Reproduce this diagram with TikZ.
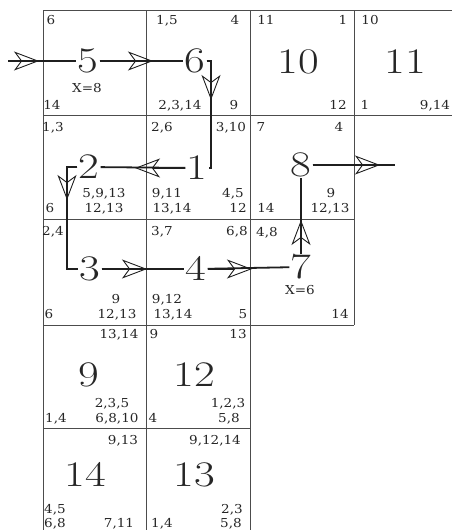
\documentclass[tikz,border=0pt]{standalone}
\usepackage{fontspec}
\newfontfamily\lblfont[FakeStretch=1.1]{DejaVu Serif}
\usetikzlibrary{arrows.meta}
\newcommand\bignum[1]{\scalebox{1.25}[1]{#1}}
\begin{document}
\begin{tikzpicture}[x=1pt,y=-1pt,
  gridline/.style={draw=black!70, line width=0.9pt},
  conn/.style={draw=black!88, line width=1.8pt},
  headon/.style={-{Stealth[open, length=25pt, width=19pt, inset=7pt, line width=0.9pt]}},
  lbl/.style={inner sep=0pt, font=\lblfont\fontsize{12.3}{13}\selectfont, text=black!85, text height=8.9pt, text depth=0pt},
  big/.style={inner sep=1pt, font=\fontsize{36}{40}\selectfont, text=black!85, text height=23.6pt, text depth=0pt}]
\useasboundingbox[fill=white] (0,0) rectangle (452,530);

% grid
\draw[gridline] (43,10) -- (452,10);
\draw[gridline] (43,115) -- (452,115);
\draw[gridline] (43,219) -- (354,219);
\draw[gridline] (43,325) -- (354,325);
\draw[gridline] (43,428) -- (250,428);
\draw[gridline] (43,10) -- (43,530);
\draw[gridline] (146,10) -- (146,530);
\draw[gridline] (250,10) -- (250,530);
\draw[gridline] (354,10) -- (354,325);

% big numbers
\node[big] (n5) at (88,61) {\bignum{5}};
\node[big] (n6) at (195,61) {\bignum{6}};
\node[big] (n10) at (298,62) {\bignum{10}};
\node[big] (n11) at (405,62) {\bignum{11}};
\node[big] (n2) at (89,167) {\bignum{2}};
\node[big] (n1) at (197,168) {\bignum{1}};
\node[big] (n8) at (301,165) {\bignum{8}};
\node[big] (n3) at (90,269) {\bignum{3}};
\node[big] (n4) at (196,269) {\bignum{4}};
\node[big] (n7) at (301,267) {\bignum{7}};
\node[big] (n9) at (89,375) {\bignum{9}};
\node[big] (n12) at (194,375) {\bignum{12}};
\node[big] (n14) at (85,475) {\bignum{14}};
\node[big] (n13) at (194,475) {\bignum{13}};

% labels cell 5
\node[lbl] (l5a) at (51,20) {6};
\node[lbl] (l5b) at (52,105) {14};
\node[lbl] (l5x) at (87,88) {X=8};
% cell 6
\node[lbl] (l6a) at (167,20) {1,5};
\node[lbl] (l6b) at (235,20) {4};
\node[lbl] (l6c) at (180,105) {2,3,14};
\node[lbl] (l6d) at (234,105) {9};
% cell 10
\node[lbl] (l10a) at (266,20) {11};
\node[lbl] (l10b) at (343,20) {1};
\node[lbl] (l10c) at (338,105) {12};
% cell 11
\node[lbl] (l11a) at (370,20) {10};
\node[lbl] (l11b) at (365,105) {1};
\node[lbl] (l11c) at (435,105) {9,14};
% cell 2
\node[lbl] (l2a) at (53,127) {1,3};
\node[lbl] (l2b) at (104,193) {5,9,13};
\node[lbl] (l2c) at (104,208) {12,13};
\node[lbl] (l2d) at (50,208) {6};
% cell 1
\node[lbl] (l1a) at (162,127) {2,6};
\node[lbl] (l1b) at (231,127) {3,10};
\node[lbl] (l1c) at (167,193) {9,11};
\node[lbl] (l1d) at (172,208) {13,14};
\node[lbl] (l1e) at (233,193) {4,5};
\node[lbl] (l1f) at (238,208) {12};
% cell 8
\node[lbl] (l8a) at (261,127) {7};
\node[lbl] (l8b) at (339,127) {4};
\node[lbl] (l8c) at (331,193) {9};
\node[lbl] (l8d) at (330,208) {12,13};
\node[lbl] (l8e) at (266,208) {14};
% cell 3
\node[lbl] (l3a) at (53,231) {2,4};
\node[lbl] (l3b) at (116,299) {9};
\node[lbl] (l3c) at (117,314) {12,13};
\node[lbl] (l3d) at (49,314) {6};
% cell 4
\node[lbl] (l4a) at (162,231) {3,7};
\node[lbl] (l4b) at (237,231) {6,8};
\node[lbl] (l4c) at (167,299) {9,12};
\node[lbl] (l4d) at (173,314) {13,14};
\node[lbl] (l4e) at (243,314) {5};
% cell 7
\node[lbl] (l7a) at (267,232) {4,8};
\node[lbl] (l7x) at (300,290) {X=6};
\node[lbl] (l7b) at (340,314) {14};
% cell 9
\node[lbl] (l9a) at (119,334) {13,14};
\node[lbl] (l9b) at (112,403) {2,3,5};
\node[lbl] (l9c) at (56,418) {1,4};
\node[lbl] (l9d) at (117,418) {6,8,10};
% cell 12
\node[lbl] (l12a) at (154,334) {9};
\node[lbl] (l12b) at (238,334) {13};
\node[lbl] (l12c) at (228,403) {1,2,3};
\node[lbl] (l12d) at (153,418) {4};
\node[lbl] (l12e) at (229,418) {5,8};
% cell 14
\node[lbl] (l14a) at (123,440) {9,13};
\node[lbl] (l14b) at (55,509) {4,5};
\node[lbl] (l14c) at (55,523) {6,8};
\node[lbl] (l14d) at (119,523) {7,11};
% cell 13
\node[lbl] (l13a) at (215,440) {9,12,14};
\node[lbl] (l13b) at (232,509) {2,3};
\node[lbl] (l13c) at (162,523) {1,4};
\node[lbl] (l13d) at (231,523) {5,8};

% connector coordinates
\coordinate (cin) at (8,61);
\coordinate (ain) at (39,61);
\coordinate (a56) at (153,61);
\coordinate (a61) at (211,100);
\coordinate (a12) at (135,168);
\coordinate (a23) at (67,200);
\coordinate (a34) at (147,269);
\coordinate (a47) at (252,269);
\coordinate (a78) at (301,220);
\coordinate (a8o) at (380,165);
\coordinate (cout) at (395,165);

% connectors
\draw[conn] (cin) -- (n5);
\draw[conn,headon] (cin) -- (ain);
\draw[conn] (n5) -- (n6);
\draw[conn,headon] (n5) -- (a56);
\draw[conn] (n6) -| (a61) |- (n1);
\draw[conn,headon] (n6) -| (a61);
\draw[conn] (n1) -- (n2);
\draw[conn,headon] (n1) -- (a12);
\draw[conn] (n2) -| (a23) |- (n3);
\draw[conn,headon] (n2) -| (a23);
\draw[conn] (n3) -- (n4);
\draw[conn,headon] (n3) -- (a34);
\draw[conn] (n4) -- (n7);
\draw[conn,headon] (n4) -- (a47);
\draw[conn] (n7) -- (n8);
\draw[conn,headon] (n7) -- (a78);
\draw[conn] (n8) -- (cout);
\draw[conn,headon] (n8) -- (a8o);
\end{tikzpicture}
\end{document}
